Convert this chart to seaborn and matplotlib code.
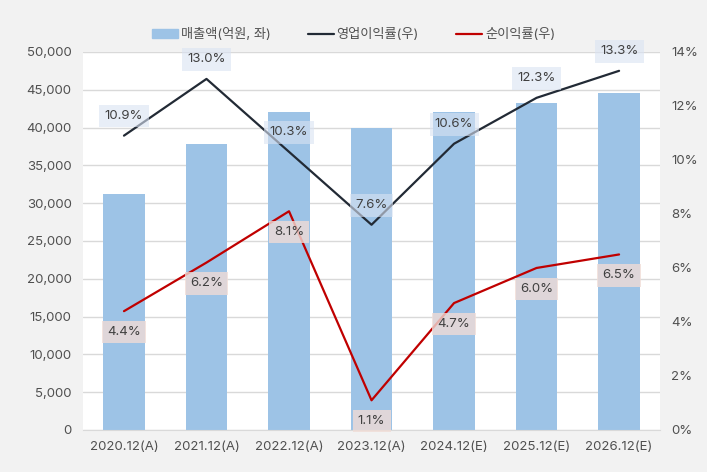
import matplotlib.pyplot as plt
import matplotlib.ticker as mticker
from matplotlib.patches import Patch
from matplotlib.lines import Line2D
import pandas as pd
import seaborn as sns

periods = ['2020.12(A)', '2021.12(A)', '2022.12(A)', '2023.12(A)',
           '2024.12(E)', '2025.12(E)', '2026.12(E)']
sales = [31200, 37800, 42100, 40000, 42100, 43300, 44600]
op_margin = [10.9, 13.0, 10.3, 7.6, 10.6, 12.3, 13.3]
net_margin = [4.4, 6.2, 8.1, 1.1, 4.7, 6.0, 6.5]

df = pd.DataFrame({'period': periods, 'sales': sales,
                   'op': op_margin, 'net': net_margin})
df['pos'] = range(len(df))

sns.set_style('white')
plt.rcParams['font.family'] = ['Inter', 'Noto Sans CJK KR', 'DejaVu Sans']

bar_color = '#9dc3e6'
op_color = '#222a35'
net_color = '#c00000'
text_color = '#505050'

fig = plt.figure(figsize=(7.07, 4.72), dpi=100, facecolor='#f2f2f2')
ax = fig.add_axes([0.117, 0.089, 0.817, 0.801])
ax.set_facecolor('white')

sns.barplot(data=df, x='period', y='sales', color=bar_color, width=0.5,
            saturation=1, linewidth=0, ax=ax, zorder=2)
ax.set_ylim(0, 50000)
ax.set_xlim(-0.5, len(df) - 0.5)
ax.yaxis.set_major_locator(mticker.MultipleLocator(5000))
ax.yaxis.set_major_formatter(mticker.StrMethodFormatter('{x:,.0f}'))
ax.grid(axis='y', color='#d9d9d9', linewidth=1, zorder=0)
ax.set_axisbelow(True)
ax.set_xlabel('')
ax.set_ylabel('')
for s in ['left', 'right', 'top']:
    ax.spines[s].set_visible(False)
ax.spines['bottom'].set_color('#d9d9d9')
ax.tick_params(axis='both', length=0, labelsize=9.5, colors=text_color, pad=8)

ax2 = ax.twinx()
sns.lineplot(data=df, x='pos', y='op', color=op_color, linewidth=1.6, ax=ax2)
sns.lineplot(data=df, x='pos', y='net', color=net_color, linewidth=1.6, ax=ax2)
ax2.set_ylim(0, 14)
ax2.set_xlim(-0.5, len(df) - 0.5)
ax2.yaxis.set_major_locator(mticker.MultipleLocator(2))
ax2.yaxis.set_major_formatter(mticker.FuncFormatter(lambda v, p: f'{v:.0f}%'))
ax2.set_xlabel('')
ax2.set_ylabel('')
for s in ['left', 'right', 'top', 'bottom']:
    ax2.spines[s].set_visible(False)
ax2.tick_params(axis='y', length=0, labelsize=9.5, colors=text_color, pad=8)

for x, v in zip(df['pos'], df['op']):
    ax2.annotate(f'{v:.1f}%', (x, v), xytext=(0, 14), textcoords='offset points',
                 ha='center', va='center', fontsize=9.5, color='#404040',
                 bbox=dict(boxstyle='square,pad=0.4', fc='#dae3f3', ec='none', alpha=0.6))
for x, v in zip(df['pos'], df['net']):
    ax2.annotate(f'{v:.1f}%', (x, v), xytext=(0, -15), textcoords='offset points',
                 ha='center', va='center', fontsize=9.5, color='#404040',
                 bbox=dict(boxstyle='square,pad=0.4', fc='#f0dcd6', ec='none', alpha=0.8))

handles = [Patch(color=bar_color),
           Line2D([0], [0], color=op_color, linewidth=1.6),
           Line2D([0], [0], color=net_color, linewidth=1.6)]
labels = ['매출액(억원, 좌)', '영업이익률(우)', '순이익률(우)']
fig.legend(handles, labels, loc='center', bbox_to_anchor=(0.5, 0.926), ncol=3,
           frameon=False, fontsize=9.5, handlelength=2.0, columnspacing=2.8,
           handletextpad=0.2, labelcolor=text_color)

fig.savefig('out.png', dpi=100, facecolor=fig.get_facecolor())
